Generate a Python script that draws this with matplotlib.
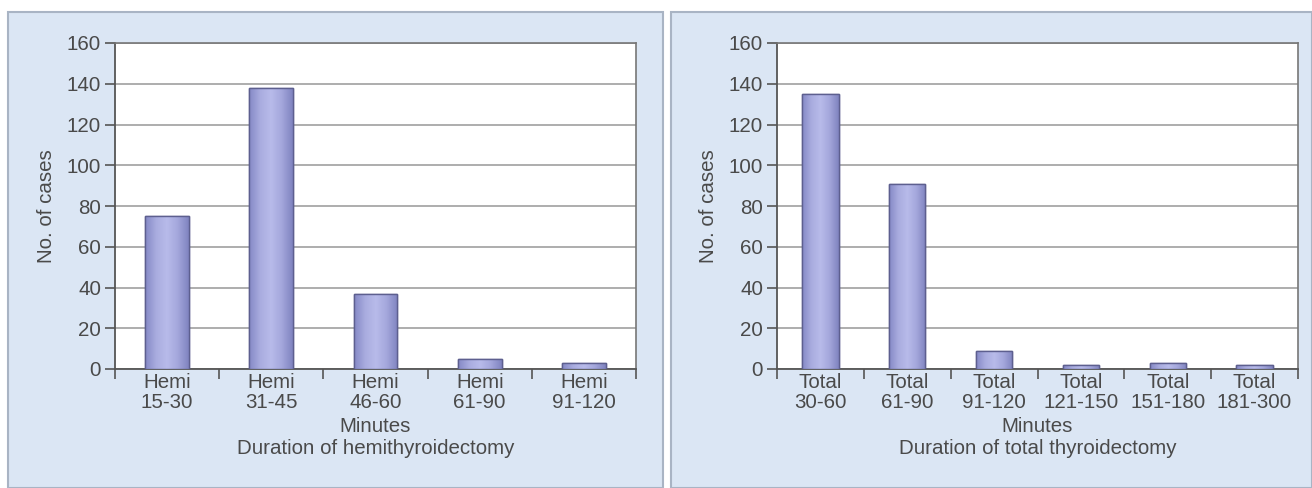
import numpy as np
import matplotlib
matplotlib.use("Agg")
import matplotlib.pyplot as plt
from matplotlib.patches import Rectangle
from matplotlib.colors import LinearSegmentedColormap

plt.rcParams['font.family'] = ['Liberation Sans', 'DejaVu Sans']

hemi_labels = ["Hemi\n15-30", "Hemi\n31-45", "Hemi\n46-60", "Hemi\n61-90", "Hemi\n91-120"]
hemi_cases = [75, 138, 37, 5, 3]

total_labels = ["Total\n30-60", "Total\n61-90", "Total\n91-120", "Total\n121-150",
                "Total\n151-180", "Total\n181-300"]
total_cases = [135, 91, 9, 2, 3, 2]

text_col = "#4a4a4a"
fs = 14.8
bar_cmap = LinearSegmentedColormap.from_list(
    "bar", ["#8589c6", "#a9acdf", "#b8bbea", "#a4a7dc", "#8084c0"])


def panel(ax, labels, values, subtitle):
    x = np.arange(len(values))
    bars = ax.bar(x, values, width=0.42, color="#a0a4dc",
                  edgecolor="#5d5f8f", linewidth=1.0, zorder=3)
    grad = np.linspace(0, 1, 64).reshape(1, -1)
    for b in bars:
        im = ax.imshow(grad, cmap=bar_cmap, aspect="auto", zorder=3.5,
                       extent=(b.get_x(), b.get_x() + b.get_width(), 0, b.get_height()))
        im.set_clip_path(b)
        # redraw outline on top
        ax.add_patch(Rectangle((b.get_x(), 0), b.get_width(), b.get_height(),
                               fill=False, edgecolor="#5d5f8f", linewidth=1.0, zorder=4))
    ax.set_xlim(-0.5, len(values) - 0.5)
    ax.set_ylim(0, 160)
    ax.set_yticks(range(0, 161, 20))
    ax.set_facecolor("white")
    ax.grid(axis="y", color="#a0a0a0", linewidth=1.2, zorder=1)
    ax.set_axisbelow(True)

    ax.set_xticks(x)
    ax.set_xticklabels(labels, fontsize=fs, color=text_col, linespacing=1.08)
    ax.set_xticks(np.arange(len(values) + 1) - 0.5, minor=True)
    ax.tick_params(axis="x", which="major", length=0, pad=3)
    ax.tick_params(axis="x", which="minor", length=7, width=1.2, color="#555555",
                   direction="out")
    ax.tick_params(axis="y", length=7, width=1.2, color="#555555", labelsize=fs,
                   labelcolor=text_col, pad=3)
    for s in ["left", "bottom"]:
        ax.spines[s].set_color("#555555")
        ax.spines[s].set_linewidth(1.3)
    for s in ["top", "right"]:
        ax.spines[s].set_color("#777777")
        ax.spines[s].set_linewidth(1.2)
    ax.set_ylabel("No. of cases", fontsize=fs, color=text_col, labelpad=8)
    ax.set_xlabel("Minutes\n" + subtitle, fontsize=fs, color=text_col,
                  labelpad=3, linespacing=1.25)


fig = plt.figure(figsize=(13.12, 4.88), dpi=100)
fig.patch.set_facecolor("white")

for x0, x1 in [(8, 663), (671, 1312)]:
    fig.patches.append(Rectangle((x0 / 1312, 0), (x1 - x0) / 1312, 1 - 12 / 488,
                                 transform=fig.transFigure, facecolor="#dbe6f4",
                                 edgecolor="#a9b4c4", linewidth=1.5, zorder=-1))

bottom = 1 - 369 / 488
top = 1 - 43 / 488
ax1 = fig.add_axes([115 / 1312, bottom, (636 - 115) / 1312, top - bottom])
ax2 = fig.add_axes([777 / 1312, bottom, (1298 - 777) / 1312, top - bottom])

panel(ax1, hemi_labels, hemi_cases, "Duration of hemithyroidectomy")
panel(ax2, total_labels, total_cases, "Duration of total thyroidectomy")

fig.savefig("out.png", dpi=100)
